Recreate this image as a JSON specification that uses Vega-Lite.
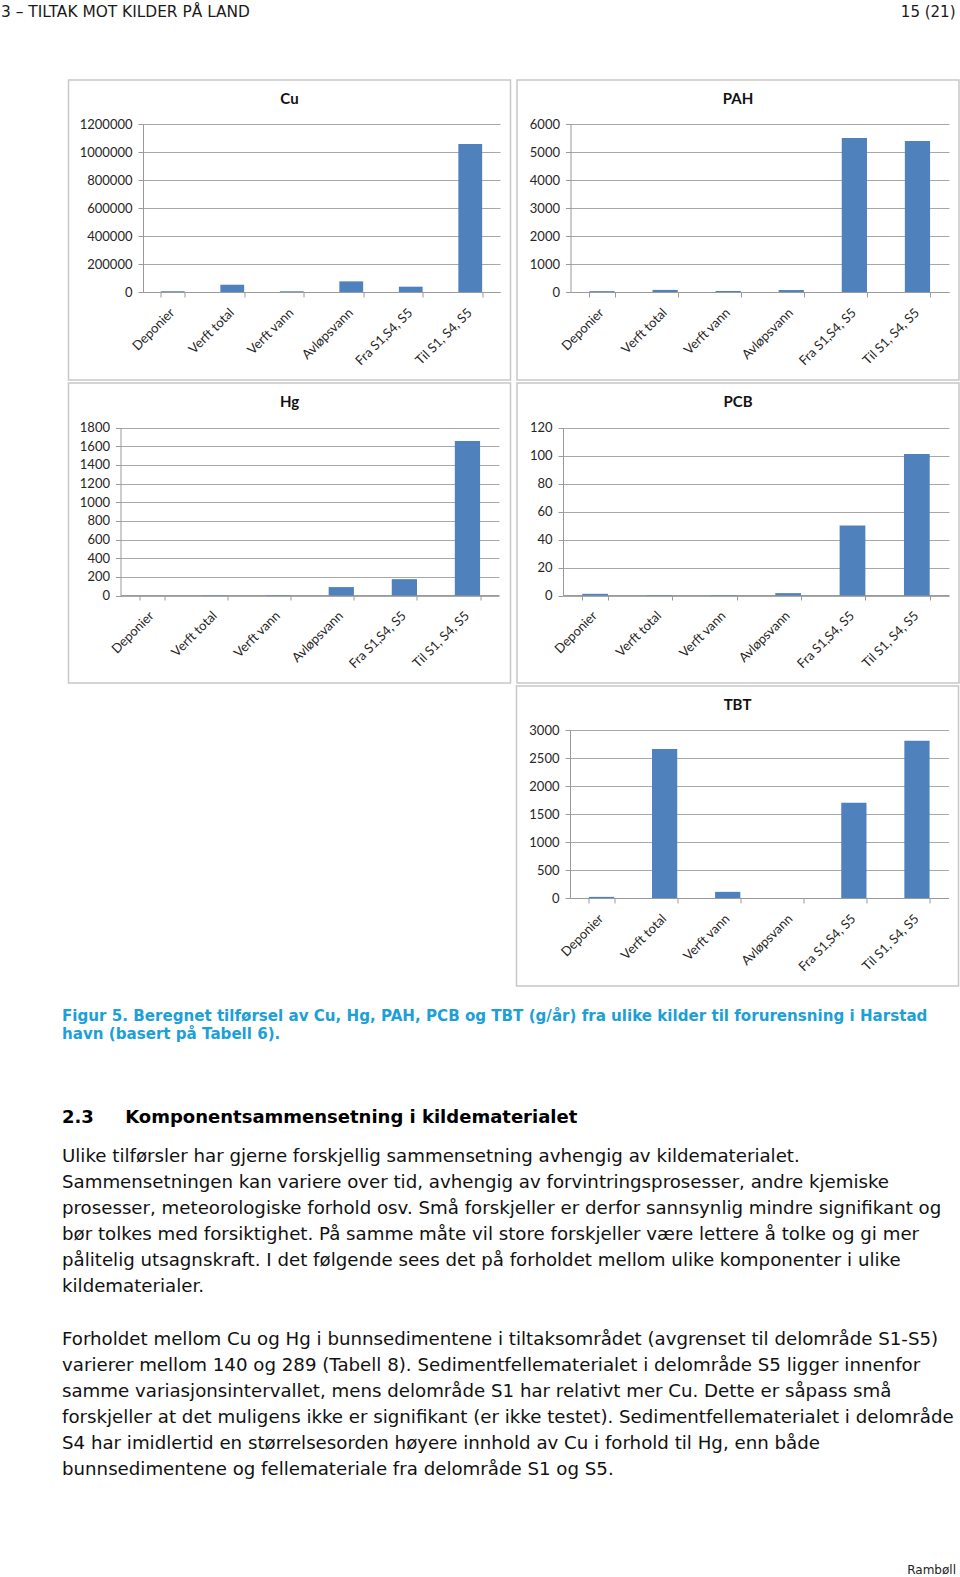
{
  "$schema": "https://vega.github.io/schema/vega-lite/v6.json",
  "padding": {"left": 1, "top": 4, "right": 0, "bottom": 0},
  "background": "white",
  "spacing": 0,
  "config": {
    "view": {"stroke": null},
    "font": "DejaVu Sans",
    "axis": {
      "labelFont": "Lato", "labelFontSize": 13, "labelColor": "#262626",
      "domainColor": "#9a9a9a", "tickColor": "#9a9a9a", "gridColor": "#a8a8a8",
      "tickSize": 5, "domainWidth": 1, "tickWidth": 1, "gridWidth": 1
    },
    "axisX": {"labelAngle": -45, "labelAlign": "right", "labelBaseline": "top", "labelPadding": 9, "labelOffset": -5, "tickBand": "extent", "grid": false, "labelOverlap": false},
    "axisY": {"grid": true, "labelPadding": 6}
  },
  "datasets": {
    "emissions": [
      {"pollutant": "Cu", "source": "Deponier", "value": 6000},
      {"pollutant": "Cu", "source": "Verft total", "value": 52000},
      {"pollutant": "Cu", "source": "Verft vann", "value": 5000},
      {"pollutant": "Cu", "source": "Avløpsvann", "value": 76000},
      {"pollutant": "Cu", "source": "Fra S1,S4, S5", "value": 38000},
      {"pollutant": "Cu", "source": "Til S1, S4, S5", "value": 1057000},
      {"pollutant": "PAH", "source": "Deponier", "value": 30},
      {"pollutant": "PAH", "source": "Verft total", "value": 75},
      {"pollutant": "PAH", "source": "Verft vann", "value": 35},
      {"pollutant": "PAH", "source": "Avløpsvann", "value": 70},
      {"pollutant": "PAH", "source": "Fra S1,S4, S5", "value": 5500},
      {"pollutant": "PAH", "source": "Til S1, S4, S5", "value": 5390},
      {"pollutant": "Hg", "source": "Deponier", "value": 0},
      {"pollutant": "Hg", "source": "Verft total", "value": 3},
      {"pollutant": "Hg", "source": "Verft vann", "value": 4},
      {"pollutant": "Hg", "source": "Avløpsvann", "value": 90},
      {"pollutant": "Hg", "source": "Fra S1,S4, S5", "value": 175},
      {"pollutant": "Hg", "source": "Til S1, S4, S5", "value": 1655},
      {"pollutant": "PCB", "source": "Deponier", "value": 1.2},
      {"pollutant": "PCB", "source": "Verft total", "value": 0.3},
      {"pollutant": "PCB", "source": "Verft vann", "value": 0.3},
      {"pollutant": "PCB", "source": "Avløpsvann", "value": 1.7},
      {"pollutant": "PCB", "source": "Fra S1,S4, S5", "value": 50},
      {"pollutant": "PCB", "source": "Til S1, S4, S5", "value": 101},
      {"pollutant": "TBT", "source": "Deponier", "value": 20},
      {"pollutant": "TBT", "source": "Verft total", "value": 2660},
      {"pollutant": "TBT", "source": "Verft vann", "value": 110},
      {"pollutant": "TBT", "source": "Avløpsvann", "value": 0},
      {"pollutant": "TBT", "source": "Fra S1,S4, S5", "value": 1700},
      {"pollutant": "TBT", "source": "Til S1, S4, S5", "value": 2810}
    ]
  },
  "vconcat": [
    {
      "spacing": 0,
      "hconcat": [
        {
          "width": 470, "height": 58.25,
          "data": {"values": []}, "mark": "point", "encoding": {},
          "title": {"text": "3 – TILTAK MOT KILDER PÅ LAND", "orient": "top", "anchor": "start", "frame": "group", "offset": 0, "font": "DejaVu Sans", "fontSize": 15.4, "fontWeight": "normal", "color": "#1a1a1a"}
        },
        {
          "width": 484.5, "height": 58.25,
          "data": {"values": []}, "mark": "point", "encoding": {},
          "title": {"text": "15 (21)", "orient": "top", "anchor": "end", "frame": "group", "offset": 0, "font": "DejaVu Sans", "fontSize": 15, "fontWeight": "normal", "color": "#1a1a1a"}
        }
      ]
    },
    {
      "spacing": 1,
      "vconcat": [
        {
          "spacing": 4.5,
          "hconcat": [
            {"width": 61.25, "height": 300, "data": {"values": []}, "mark": "point", "encoding": {}},
            {
              "width": 442, "height": 300,
              "view": {"stroke": "#c8c8c8", "strokeWidth": 1.5},
              "title": {"text": "Cu", "orient": "top", "anchor": "middle", "frame": "group", "offset": -27, "font": "Lato", "fontSize": 15, "fontWeight": "bold", "color": "#111111"},
              "data": {"name": "emissions"},
              "transform": [{"filter": "datum.pollutant === 'Cu'"}],
              "mark": {"type": "bar", "color": "#4F81BD"},
              "encoding": {
                "x": {"field": "source", "type": "nominal", "sort": null, "title": null,
                      "scale": {"range": [74.5, 431.5], "paddingInner": 0.6, "paddingOuter": 0.3},
                      "axis": {"offset": -88}},
                "y": {"field": "value", "type": "quantitative", "title": null,
                      "scale": {"domain": [0, 1200000], "range": [212, 44], "nice": false},
                      "axis": {"offset": -74.5, "format": "d", "values": [0, 200000, 400000, 600000, 800000, 1000000, 1200000]}}
              }
            },
            {
              "width": 442, "height": 300,
              "view": {"stroke": "#c8c8c8", "strokeWidth": 1.5},
              "title": {"text": "PAH", "orient": "top", "anchor": "middle", "frame": "group", "offset": -27, "font": "Lato", "fontSize": 15, "fontWeight": "bold", "color": "#111111"},
              "data": {"name": "emissions"},
              "transform": [{"filter": "datum.pollutant === 'PAH'"}],
              "mark": {"type": "bar", "color": "#4F81BD"},
              "encoding": {
                "x": {"field": "source", "type": "nominal", "sort": null, "title": null,
                      "scale": {"range": [53.5, 432], "paddingInner": 0.6, "paddingOuter": 0.3},
                      "axis": {"offset": -88}},
                "y": {"field": "value", "type": "quantitative", "title": null,
                      "scale": {"domain": [0, 6000], "range": [212, 44], "nice": false},
                      "axis": {"offset": -53.5, "format": "d", "values": [0, 1000, 2000, 3000, 4000, 5000, 6000]}}
              }
            }
          ]
        },
        {
          "spacing": 4.5,
          "hconcat": [
            {"width": 61.25, "height": 300, "data": {"values": []}, "mark": "point", "encoding": {}},
            {
              "width": 442, "height": 300,
              "view": {"stroke": "#c8c8c8", "strokeWidth": 1.5},
              "title": {"text": "Hg", "orient": "top", "anchor": "middle", "frame": "group", "offset": -27, "font": "Lato", "fontSize": 15, "fontWeight": "bold", "color": "#111111"},
              "data": {"name": "emissions"},
              "transform": [{"filter": "datum.pollutant === 'Hg'"}],
              "mark": {"type": "bar", "color": "#4F81BD"},
              "encoding": {
                "x": {"field": "source", "type": "nominal", "sort": null, "title": null,
                      "scale": {"range": [52, 430.5], "paddingInner": 0.6, "paddingOuter": 0.3},
                      "axis": {"offset": -88}},
                "y": {"field": "value", "type": "quantitative", "title": null,
                      "scale": {"domain": [0, 1800], "range": [212.5, 44.5], "nice": false},
                      "axis": {"offset": -52, "format": "d", "values": [0, 200, 400, 600, 800, 1000, 1200, 1400, 1600, 1800]}}
              }
            },
            {
              "width": 442, "height": 300,
              "view": {"stroke": "#c8c8c8", "strokeWidth": 1.5},
              "title": {"text": "PCB", "orient": "top", "anchor": "middle", "frame": "group", "offset": -27, "font": "Lato", "fontSize": 15, "fontWeight": "bold", "color": "#111111"},
              "data": {"name": "emissions"},
              "transform": [{"filter": "datum.pollutant === 'PCB'"}],
              "mark": {"type": "bar", "color": "#4F81BD"},
              "encoding": {
                "x": {"field": "source", "type": "nominal", "sort": null, "title": null,
                      "scale": {"range": [46, 432], "paddingInner": 0.6, "paddingOuter": 0.3},
                      "axis": {"offset": -88}},
                "y": {"field": "value", "type": "quantitative", "title": null,
                      "scale": {"domain": [0, 120], "range": [212.5, 44.5], "nice": false},
                      "axis": {"offset": -46, "format": "d", "values": [0, 20, 40, 60, 80, 100, 120]}}
              }
            }
          ]
        },
        {
          "spacing": 4.5,
          "hconcat": [
            {"width": 509.25, "height": 300, "data": {"values": []}, "mark": "point", "encoding": {}},
            {
              "width": 442, "height": 300,
              "view": {"stroke": "#c8c8c8", "strokeWidth": 1.5},
              "title": {"text": "TBT", "orient": "top", "anchor": "middle", "frame": "group", "offset": -27, "font": "Lato", "fontSize": 15, "fontWeight": "bold", "color": "#111111"},
              "data": {"name": "emissions"},
              "transform": [{"filter": "datum.pollutant === 'TBT'"}],
              "mark": {"type": "bar", "color": "#4F81BD"},
              "encoding": {
                "x": {"field": "source", "type": "nominal", "sort": null, "title": null,
                      "scale": {"range": [53.5, 432], "paddingInner": 0.6, "paddingOuter": 0.3},
                      "axis": {"offset": -88}},
                "y": {"field": "value", "type": "quantitative", "title": null,
                      "scale": {"domain": [0, 3000], "range": [212, 44], "nice": false},
                      "axis": {"offset": -53.5, "format": "d", "values": [0, 500, 1000, 1500, 2000, 2500, 3000]}}
              }
            }
          ]
        }
      ]
    },
    {
      "width": 955, "height": 21.75,
      "data": {"values": []}, "mark": "point", "encoding": {},
      "title": {
        "text": ["Figur 5. Beregnet tilførsel av Cu, Hg, PAH, PCB og TBT (g/år) fra ulike kilder til forurensning i Harstad", "havn (basert på Tabell 6)."],
        "orient": "bottom", "anchor": "start", "frame": "group", "offset": 0, "dx": 61,
        "font": "DejaVu Sans", "fontSize": 15.1, "fontWeight": "bold", "color": "#1d9fd8", "lineHeight": 18
      }
    },
    {
      "width": 955, "height": 66.8,
      "data": {"values": []}, "mark": "point", "encoding": {},
      "title": {
        "text": "2.3\u00a0\u00a0\u00a0\u00a0\u00a0Komponentsammensetning i kildematerialet",
        "subtitle": [
          "Ulike tilførsler har gjerne forskjellig sammensetning avhengig av kildematerialet.",
          "Sammensetningen kan variere over tid, avhengig av forvintringsprosesser, andre kjemiske",
          "prosesser, meteorologiske forhold osv. Små forskjeller er derfor sannsynlig mindre signifikant og",
          "bør tolkes med forsiktighet. På samme måte vil store forskjeller være lettere å tolke og gi mer",
          "pålitelig utsagnskraft. I det følgende sees det på forholdet mellom ulike komponenter i ulike",
          "kildematerialer."
        ],
        "orient": "bottom", "anchor": "start", "frame": "group", "offset": 0, "dx": 61,
        "font": "DejaVu Sans", "fontSize": 18, "fontWeight": "bold", "color": "#000000",
        "subtitleFont": "DejaVu Sans", "subtitleFontSize": 18.2, "subtitleFontWeight": "normal", "subtitleColor": "#111111",
        "subtitleLineHeight": 26, "subtitlePadding": 21
      }
    },
    {
      "width": 955, "height": 35.8,
      "data": {"values": []}, "mark": "point", "encoding": {},
      "title": {
        "text": [
          "Forholdet mellom Cu og Hg i bunnsedimentene i tiltaksområdet (avgrenset til delområde S1-S5)",
          "varierer mellom 140 og 289 (Tabell 8). Sedimentfellematerialet i delområde S5 ligger innenfor",
          "samme variasjonsintervallet, mens delområde S1 har relativt mer Cu. Dette er såpass små",
          "forskjeller at det muligens ikke er signifikant (er ikke testet). Sedimentfellematerialet i delområde",
          "S4 har imidlertid en størrelsesorden høyere innhold av Cu i forhold til Hg, enn både",
          "bunnsedimentene og fellemateriale fra delområde S1 og S5."
        ],
        "orient": "bottom", "anchor": "start", "frame": "group", "offset": 0, "dx": 61,
        "font": "DejaVu Sans", "fontSize": 18.2, "fontWeight": "normal", "color": "#111111", "lineHeight": 26
      }
    },
    {
      "width": 955, "height": 86.8,
      "data": {"values": []}, "mark": "point", "encoding": {},
      "title": {"text": "Rambøll", "orient": "bottom", "anchor": "end", "frame": "group", "offset": 0, "font": "DejaVu Sans", "fontSize": 12, "fontWeight": "normal", "color": "#222222"}
    }
  ]
}
